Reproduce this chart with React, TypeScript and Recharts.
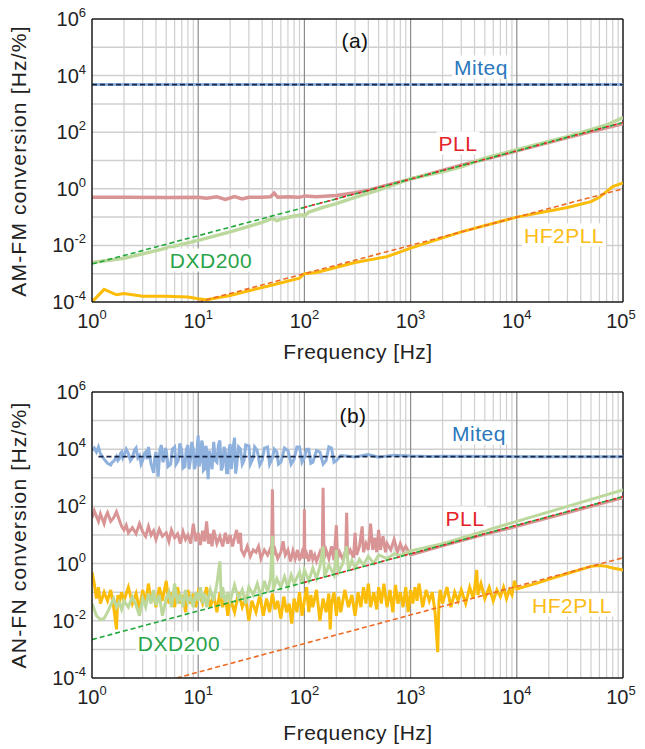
import React from 'react';
import { LineChart, Line, XAxis, YAxis, ReferenceLine } from 'recharts';

const FONT = '"Liberation Sans", Arial, Helvetica, sans-serif';

// tick positions
const xDecades = [1, 10, 100, 1000, 10000, 100000];
const yDecades = [1e-4, 1e-2, 1, 1e2, 1e4, 1e6];
const yGrid = [1e-3, 1e-2, 1e-1, 1, 10, 100, 1e3, 1e4, 1e5];
const xMajorGrid = [10, 100, 1000, 10000];
const xMinorGrid = [1, 10, 100, 1000, 10000].flatMap((d) => [2, 3, 4, 5, 6, 7, 8, 9].map((m) => m * d));

// ---- panel (a) : AM-FM ----
const miteqA = [[1, 4800], [100000, 4800]];
const miteqFitA = [[1, 4800], [100000, 4800]];
const pllA = [
  [1, 0.5], [2, 0.5], [5, 0.49], [10, 0.5], [12, 0.46], [15, 0.52], [18, 0.42], [22, 0.53], [26, 0.44],
  [30, 0.5], [40, 0.5], [48, 0.52], [52, 0.7], [56, 0.5], [70, 0.52], [90, 0.5], [100, 0.56], [130, 0.52],
  [200, 0.58], [300, 0.72], [400, 0.9], [600, 1.35], [1000, 2.2], [3000, 6.8], [10000, 22], [30000, 65], [100000, 200],
];
const dxdA = [
  [1, 0.0025], [2, 0.0035], [3, 0.005], [5, 0.008], [10, 0.015], [20, 0.03], [40, 0.065], [50, 0.09], [55, 0.075],
  [60, 0.085], [80, 0.11], [95, 0.12], [100, 0.11], [110, 0.15], [150, 0.22], [200, 0.3], [300, 0.5], [500, 0.9],
  [1000, 2.3], [2000, 4], [3000, 6], [5000, 12], [10000, 24], [30000, 70], [70000, 180], [100000, 330],
];
const hf2A = [
  [1, 0.0001], [1.3, 0.00028], [1.7, 0.00018], [2, 0.0002], [3, 0.00016], [5, 0.00016], [8, 0.00015], [10, 0.00013],
  [12, 0.00012], [20, 0.00017], [50, 0.0004], [90, 0.0007], [100, 0.001], [130, 0.0011], [300, 0.0025], [600, 0.004],
  [1000, 0.008], [3000, 0.03], [10000, 0.1], [30000, 0.22], [50000, 0.35], [60000, 0.5], [80000, 1.2], [100000, 1.6],
];
const linFitA = [[1, 0.0022], [100000, 220]];
const pllFitA = [[100, 0.22], [100000, 220]];
const hf2FitA = [[10, 0.0001], [100000, 1]];

// ---- panel (b) : AN-FN ----
const miteqB = [
  [1, 9000], [1.05, 11000], [1.1, 8000], [1.15, 12000], [1.2, 7000], [1.25, 5500], [1.3, 4500], [1.35, 3800],
  [1.4, 3200], [1.45, 3000], [1.5, 2800], [1.55, 3500], [1.6, 3800], [1.65, 4500], [1.7, 5500], [1.75, 4000],
  [1.8, 4500], [1.85, 7000], [1.9, 8000], [1.95, 5000], [2, 6000], [2.1, 10000], [2.2, 7000], [2.3, 4000], [2.4, 5000],
  [2.5, 9000], [2.6, 11000], [2.7, 5000], [2.8, 6000], [2.9, 3000], [3, 4000], [3.1, 7000], [3.2, 8000], [3.3, 4500],
  [3.4, 12000], [3.5, 6000], [3.6, 3000], [3.7, 2200], [3.8, 1500], [3.9, 5000], [4, 8000], [4.1, 3000], [4.2, 1100],
  [4.35, 9000], [4.5, 14000], [4.65, 3500], [4.8, 5000], [4.9, 11000], [5, 9000], [5.2, 2500], [5.5, 3000],
  [5.7, 10000], [6, 12000], [6.2, 3000], [6.5, 4000], [6.7, 16000], [7, 9000], [7.2, 2200], [7.5, 2500], [7.7, 9000],
  [8, 14000], [8.2, 2000], [8.5, 5000], [8.7, 18000], [9, 10000], [9.2, 2000], [9.5, 3000], [9.8, 12000], [10, 30000],
  [10.2, 2500], [10.5, 4000], [10.8, 20000], [11, 15000], [11.2, 1800], [11.5, 2000], [11.8, 13000], [12, 10000],
  [12.4, 900], [12.7, 9000], [13, 6000], [13.5, 2000], [14, 18000], [14.5, 4000], [15, 3500], [15.5, 14000],
  [16, 20000], [16.5, 1800], [17, 2500], [17.5, 12000], [18, 9000], [18.5, 1500], [19, 1500], [19.5, 10000],
  [20, 15000], [20.5, 2000], [21, 5000], [21.5, 14000], [22, 25000], [22.5, 1400], [23, 2500], [24, 12000],
  [25, 10000], [26, 3000], [27, 4000], [28, 14000], [30, 13000], [31, 3000], [33, 5000], [34, 12000], [36, 9000],
  [38, 2800], [40, 4000], [42, 11000], [45, 12000], [47, 3000], [50, 5000], [52, 10000], [55, 8000], [57, 3000],
  [60, 3500], [65, 11000], [70, 9000], [75, 3000], [80, 4500], [85, 12000], [90, 12000], [95, 3500], [100, 5000],
  [105, 10000], [110, 10000], [115, 3200], [120, 3500], [130, 9000], [140, 8000], [150, 3000], [160, 4000],
  [170, 12000], [180, 11000], [190, 3500], [200, 4000], [220, 6000], [300, 5300], [400, 6500], [500, 5200],
  [700, 6200], [1000, 5800], [1500, 5600], [2000, 5700], [10000, 5500], [100000, 5500],
];
const miteqFitB = [[1.15, 5500], [100000, 5500]];
const pllB = [
  [1, 40], [1.05, 70], [1.1, 45], [1.15, 30], [1.2, 55], [1.3, 25], [1.35, 45], [1.4, 60], [1.5, 30], [1.6, 40],
  [1.7, 65], [1.8, 35], [1.9, 20], [2, 15], [2.1, 22], [2.2, 12], [2.4, 18], [2.6, 11], [2.8, 25], [3, 13], [3.2, 9],
  [3.4, 20], [3.6, 10], [3.8, 14], [4, 7], [4.3, 16], [4.6, 9], [5, 12], [5.3, 6], [5.6, 15], [6, 8], [6.4, 11],
  [6.8, 5], [7.2, 13], [7.6, 7], [8, 10], [8.5, 5], [9, 25], [9.5, 6], [10, 12], [10.5, 4.5], [11, 14], [11.5, 6],
  [12, 30], [12.5, 5], [13, 11], [13.5, 4], [14, 15], [15, 5], [16, 9], [17, 4], [18, 12], [19, 5], [20, 10], [21, 4],
  [22, 8], [23, 15], [24, 5], [25, 12], [25.5, 3], [27, 2], [29, 4], [31, 1.8], [33, 3], [35, 2.5], [37, 4], [39, 1.5],
  [42, 3], [45, 2], [48, 3.5], [49, 2], [50, 400], [51, 2], [53, 3], [56, 1.5], [60, 2.5], [63, 6], [66, 2], [70, 3],
  [74, 1.2], [78, 2.8], [82, 1.5], [86, 3], [90, 1.3], [95, 2.5], [99, 1.5], [100, 80], [101, 1.5], [105, 2.2],
  [110, 1.2], [115, 3], [120, 1.4], [125, 2], [130, 1.2], [140, 2.5], [147, 1.5], [150, 450], [153, 1.5], [160, 3],
  [170, 1.5], [180, 4], [190, 1.3], [200, 22], [205, 1.5], [215, 2.5], [230, 1.4], [245, 3], [250, 60], [255, 2],
  [270, 3], [290, 1.6], [300, 12], [310, 2], [330, 4], [350, 20], [360, 2.5], [380, 5], [400, 3], [420, 25], [440, 3],
  [460, 8], [480, 2.5], [500, 15], [520, 3], [550, 9], [580, 2.5], [600, 5], [650, 3], [700, 7], [750, 2.5], [800, 5],
  [850, 2.8], [900, 4], [1000, 2], [2000, 4.2], [5000, 10.5], [10000, 20], [30000, 60], [100000, 200],
];
const dxdB = [
  [1, 0.04], [1.05, 0.025], [1.1, 0.015], [1.2, 0.011], [1.3, 0.012], [1.4, 0.02], [1.5, 0.035], [1.6, 0.06],
  [1.7, 0.03], [1.8, 0.045], [1.9, 0.025], [2, 0.05], [2.2, 0.03], [2.4, 0.07], [2.6, 0.035], [2.8, 0.015], [3, 0.06],
  [3.2, 0.03], [3.4, 0.09], [3.6, 0.04], [3.8, 0.12], [4, 0.035], [4.3, 0.08], [4.6, 0.015], [5, 0.06], [5.3, 0.1],
  [5.6, 0.03], [6, 0.2], [6.4, 0.04], [6.8, 0.09], [7.2, 0.03], [7.6, 0.12], [8, 0.045], [8.5, 0.07], [9, 0.03],
  [9.5, 0.1], [10, 0.05], [10.5, 0.15], [11, 0.04], [11.5, 0.09], [12, 0.03], [13, 0.12], [14, 0.05], [15, 0.2],
  [16, 1.2], [16.5, 0.06], [17, 0.15], [18, 0.04], [19, 0.1], [20, 0.05], [22, 0.18], [24, 0.06], [26, 0.12], [28, 0.04],
  [30, 0.15], [33, 0.08], [36, 0.2], [39, 0.07], [42, 0.25], [45, 0.1], [48, 0.3], [50, 9], [51, 0.12], [55, 0.3],
  [60, 0.15], [65, 0.35], [70, 0.15], [75, 0.4], [80, 0.2], [90, 0.5], [95, 0.2], [100, 0.6], [110, 0.25], [120, 0.7],
  [130, 0.3], [140, 0.8], [150, 4], [155, 0.35], [170, 0.9], [190, 0.4], [200, 3], [210, 0.5], [230, 1], [250, 4],
  [260, 0.6], [280, 1.3], [300, 0.7], [330, 1.4], [360, 0.9], [400, 1.8], [450, 1], [500, 2], [600, 1.5], [700, 2.2],
  [800, 1.9], [1000, 2.8], [2000, 5], [5000, 14], [10000, 30], [30000, 100], [100000, 380],
];
const hf2B = [
  [1, 0.5], [1.05, 0.2], [1.1, 0.06], [1.15, 0.15], [1.2, 0.04], [1.3, 0.1], [1.4, 0.05], [1.5, 0.12], [1.6, 0.03],
  [1.7, 0.005], [1.75, 0.08], [1.8, 0.04], [1.9, 0.1], [2, 0.05], [2.2, 0.15], [2.4, 0.04], [2.6, 0.09], [2.8, 0.025],
  [3, 0.12], [3.2, 0.04], [3.4, 0.2], [3.6, 0.05], [3.8, 0.1], [4, 0.03], [4.3, 0.15], [4.6, 0.05], [5, 0.25],
  [5.3, 0.04], [5.6, 0.1], [6, 0.03], [6.4, 0.15], [6.8, 0.04], [7.2, 0.08], [7.6, 0.02], [8, 0.12], [8.5, 0.04],
  [9, 0.09], [9.5, 0.03], [10, 0.1], [11, 0.04], [12, 0.15], [13, 0.03], [14, 0.08], [15, 0.02], [16, 0.1], [17, 0.03],
  [18, 0.07], [19, 0.015], [20, 0.06], [22, 0.02], [24, 0.1], [26, 0.03], [28, 0.06], [30, 0.01], [32, 0.05],
  [35, 0.02], [38, 0.08], [41, 0.015], [44, 0.06], [47, 0.02], [50, 0.09], [53, 0.025], [56, 0.05], [60, 0.012],
  [64, 0.07], [68, 0.02], [72, 0.04], [76, 0.008], [80, 0.06], [85, 0.02], [90, 0.1], [95, 0.015], [100, 0.05],
  [105, 0.15], [110, 0.02], [115, 0.08], [120, 0.03], [130, 0.12], [140, 0.01], [150, 0.06], [160, 0.02], [170, 0.09],
  [175, 0.005], [180, 0.04], [190, 0.1], [200, 0.015], [210, 0.07], [220, 0.02], [240, 0.12], [260, 0.03], [280, 0.08],
  [300, 0.015], [320, 0.1], [340, 0.03], [360, 0.15], [380, 0.04], [400, 0.2], [420, 0.03], [450, 0.1], [480, 0.025],
  [500, 0.15], [530, 0.04], [560, 0.2], [600, 0.03], [640, 0.12], [680, 0.02], [720, 0.18], [760, 0.04], [800, 0.1],
  [850, 0.03], [900, 0.15], [950, 0.02], [1000, 0.12], [1050, 0.04], [1100, 0.15], [1150, 0.05], [1200, 0.2],
  [1300, 0.03], [1400, 0.12], [1500, 0.05], [1600, 0.1], [1700, 0.02], [1800, 0.0008], [1850, 0.05], [1900, 0.12],
  [2000, 0.04], [2200, 0.15], [2400, 0.03], [2600, 0.1], [2800, 0.05], [3000, 0.12], [3300, 0.04], [3600, 0.15],
  [3900, 0.06], [4200, 0.6], [4300, 0.08], [4600, 0.2], [5000, 0.06], [5500, 0.15], [6000, 0.05], [6500, 0.12],
  [7000, 0.07], [7500, 0.15], [8000, 0.06], [8500, 0.12], [9000, 0.08], [9500, 0.25], [10000, 0.13], [15000, 0.2],
  [20000, 0.28], [30000, 0.45], [50000, 0.8], [60000, 0.85], [70000, 0.8], [80000, 0.7], [100000, 0.6],
];
const linFitB = [[1, 0.0022], [100000, 220]];
const pllFitB = [[100, 0.22], [100000, 220]];
const hf2FitB = [[6.25, 0.0001], [100000, 1.6]];

const toPts = (arr: number[][]) => arr.map(([f, v]) => ({ f, v }));

const XTick = (props: any) => {
  const { x, y, payload } = props;
  const e = Math.round(Math.log10(payload.value));
  return (
    <text x={x} y={y + 18} textAnchor="middle" fontSize={20} fill="#222" fontFamily={FONT}>
      <tspan>10</tspan>
      <tspan dy={-9} fontSize={13}>{e}</tspan>
    </text>
  );
};

const YTick = (props: any) => {
  const { y, payload } = props;
  const e = Math.round(Math.log10(payload.value));
  return (
    <text x={86} y={y + 7} textAnchor="end" fontSize={20} fill="#222" fontFamily={FONT}>
      <tspan>10</tspan>
      <tspan dy={-9} fontSize={13}>{e}</tspan>
    </text>
  );
};

const Label = ({ cx, cy, color, text, bg = true }: any) => (
  <div
    style={{
      position: 'absolute', left: cx, top: cy, transform: 'translate(-50%, -50%)', color,
      background: bg ? '#fff' : 'transparent', fontFamily: FONT, fontSize: 21, lineHeight: '23px',
      letterSpacing: 0.5, padding: '0 2px', whiteSpace: 'nowrap',
    }}
  >
    {text}
  </div>
);

const Panel = ({ top, height, mTop, mBottom, series }: any) => (
  <div style={{ position: 'absolute', left: 0, top }}>
    <LineChart width={645} height={height} margin={{ top: mTop, right: 22, left: 32, bottom: mBottom }}>
      <XAxis
        dataKey="f" type="number" scale="log" domain={[1, 100000]} allowDataOverflow ticks={xDecades}
        tick={<XTick />} tickLine={false} axisLine={{ stroke: '#1a1a1a', strokeWidth: 1.5 }} height={30}
      />
      <YAxis
        type="number" scale="log" domain={[1e-4, 1e6]} allowDataOverflow ticks={yDecades}
        tick={<YTick />} tickLine={false} axisLine={{ stroke: '#1a1a1a', strokeWidth: 1.5 }} width={60}
      />
      {xMinorGrid.map((v) => (
        <ReferenceLine key={'xm' + v} x={v} stroke="#cfcfcf" strokeWidth={1.2} />
      ))}
      {yGrid.map((v) => (
        <ReferenceLine key={'y' + v} y={v} stroke="#cfcfcf" strokeWidth={1.5} />
      ))}
      {xMajorGrid.map((v) => (
        <ReferenceLine key={'xM' + v} x={v} stroke="#8c8c8c" strokeWidth={1.2} />
      ))}
      <ReferenceLine y={1e6} stroke="#1a1a1a" strokeWidth={1.5} />
      <ReferenceLine x={100000} stroke="#1a1a1a" strokeWidth={1.5} />
      {series.map((s: any) => (
        <Line
          key={s.name} data={toPts(s.data)} dataKey="v" type="linear" stroke={s.color} strokeWidth={s.width}
          strokeDasharray={s.dash} dot={false} activeDot={false} isAnimationActive={false}
        />
      ))}
    </LineChart>
  </div>
);

const seriesA = [
  { name: 'miteq', data: miteqA, color: '#8fb1dd', width: 3 },
  { name: 'miteqFit', data: miteqFitA, color: '#17284a', width: 1.6, dash: '5 3' },
  { name: 'pll', data: pllA, color: '#d99595', width: 3.5 },
  { name: 'dxd', data: dxdA, color: '#bcd89c', width: 3.5 },
  { name: 'linFit', data: linFitA, color: '#22a83a', width: 1.6, dash: '5 3' },
  { name: 'pllFit', data: pllFitA, color: '#e8202a', width: 1.6, dash: '3 5' },
  { name: 'hf2', data: hf2A, color: '#fbbc0a', width: 3 },
  { name: 'hf2Fit', data: hf2FitA, color: '#ee6b25', width: 1.6, dash: '5 3' },
];

const seriesB = [
  { name: 'miteq', data: miteqB, color: '#8fb1dd', width: 3 },
  { name: 'miteqFit', data: miteqFitB, color: '#17284a', width: 1.6, dash: '5 3' },
  { name: 'pll', data: pllB, color: '#d99595', width: 3 },
  { name: 'hf2', data: hf2B, color: '#fbbc0a', width: 3 },
  { name: 'dxd', data: dxdB, color: '#bcd89c', width: 3 },
  { name: 'linFit', data: linFitB, color: '#22a83a', width: 1.6, dash: '5 3' },
  { name: 'pllFit', data: pllFitB, color: '#e8202a', width: 1.6, dash: '3 5' },
  { name: 'hf2Fit', data: hf2FitB, color: '#ee6b25', width: 1.6, dash: '5 3' },
];

const yTitle = (text: string, cy: number) => (
  <div
    style={{
      position: 'absolute', left: 19, top: cy, transform: 'translate(-50%, -50%) rotate(-90deg)',
      fontFamily: FONT, fontSize: 21, letterSpacing: 1.2, color: '#222', whiteSpace: 'nowrap',
    }}
  >
    {text}
  </div>
);

export default function App() {
  return (
    <div style={{ position: 'absolute', left: 0, top: 0, width: 645, height: 749, background: '#fff' }}>
      <Panel top={0} height={360} mTop={19} mBottom={28} series={seriesA} />
      <Panel top={360} height={389} mTop={32} mBottom={41} series={seriesB} />

      {yTitle('AM-FM conversion [Hz/%]', 161)}
      {yTitle('AN-FN conversion [Hz/%]', 535)}
      <Label cx={358} cy={351} color="#222" text="Frequency [Hz]" bg={false} />
      <Label cx={358} cy={732} color="#222" text="Frequency [Hz]" bg={false} />

      <Label cx={355} cy={40} color="#111" text="(a)" bg={false} />
      <Label cx={481} cy={67} color="#2b78bd" text="Miteq" />
      <Label cx={458} cy={143} color="#e4242b" text="PLL" />
      <Label cx={211} cy={260} color="#2aa34a" text="DXD200" />
      <Label cx={564} cy={235} color="#fbbd14" text="HF2PLL" />

      <Label cx={353} cy={415} color="#111" text="(b)" bg={false} />
      <Label cx={479} cy={433} color="#2b78bd" text="Miteq" />
      <Label cx={465} cy={518} color="#e4242b" text="PLL" />
      <Label cx={179} cy={643} color="#2aa34a" text="DXD200" />
      <Label cx={572} cy={605} color="#fbbd14" text="HF2PLL" />
    </div>
  );
}
